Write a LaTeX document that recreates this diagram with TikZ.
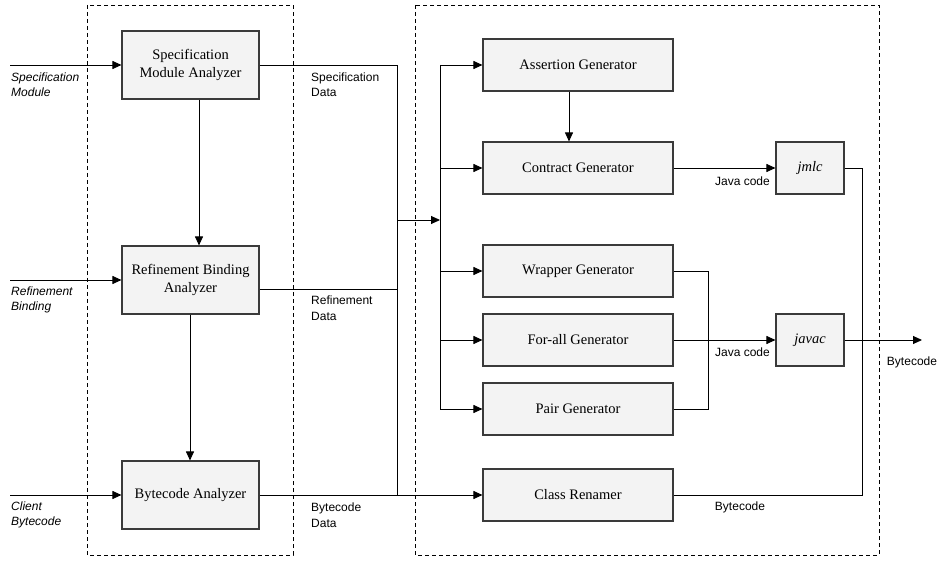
\documentclass[tikz,border=0pt]{standalone}
\usepackage{fontspec}
\setmainfont{Liberation Serif}
\setsansfont{Liberation Sans}
\usetikzlibrary{arrows.meta}
\definecolor{boxfill}{HTML}{F3F3F3}
\definecolor{boxline}{HTML}{3A3A3A}
\tikzset{
  stagebox/.style={draw=boxline, line width=1.1pt, fill=boxfill, inner sep=2pt, align=center,
    font=\fontsize{14.5}{17.5}\selectfont},
  anabox/.style={stagebox, minimum width=137pt, minimum height=68pt},
  genbox/.style={stagebox, minimum width=190pt, minimum height=52pt},
  compbox/.style={stagebox, minimum width=68pt, minimum height=52pt, font=\fontsize{14.5}{17.5}\selectfont\itshape},
  lbl/.style={font=\sffamily\fontsize{12}{15.5}\selectfont, align=left, inner sep=0pt},
  inlbl/.style={lbl, font=\sffamily\itshape\fontsize{12}{15.5}\selectfont},
  conn/.style={draw=black, line width=0.9pt},
  arr/.style={conn, -{Triangle[length=9pt,width=8pt]}},
  group/.style={draw=black, line width=0.9pt, dash pattern=on 4pt off 3pt}
}
\begin{document}
\begin{tikzpicture}[x=1pt,y=-1pt]
\useasboundingbox (0,0) rectangle (937,561);
% dashed groups
\draw[group] (87,5) rectangle (293,555);
\draw[group] (415,5) rectangle (879,555);
% analyzers
\node[anabox] (sma) at (190.5,65) {Specification\\Module Analyzer};
\node[anabox] (rba) at (190.5,280) {Refinement Binding\\Analyzer};
\node[anabox] (ba) at (190.5,495) {Bytecode Analyzer};
% generators
\node[genbox] (ag) at (578,65) {Assertion Generator};
\node[genbox] (cg) at (578,168) {Contract Generator};
\node[genbox] (wg) at (578,271) {Wrapper Generator};
\node[genbox] (fg) at (578,340) {For-all Generator};
\node[genbox] (pg) at (578,409) {Pair Generator};
\node[genbox] (cr) at (578,495) {Class Renamer};
% compilers
\node[compbox] (jmlc) at (810,168) {jmlc};
\node[compbox] (javac) at (810,340) {javac};
% coordinates
\coordinate (in1) at (10,65);
\coordinate (in2) at (10,280);
\coordinate (in3) at (10,495);
\coordinate (x199) at (199,0);
\coordinate (x190) at (190,0);
\coordinate (x569) at (569,0);
\coordinate (y289) at (0,289);
\coordinate (c1) at (397,65);
\coordinate (c2) at (397,289);
\coordinate (c3) at (397,495);
\coordinate (j1) at (397,220);
\coordinate (b0) at (440,220);
\coordinate (btop) at (440,65);
\coordinate (bbot) at (440,409);
\coordinate (w1) at (708,271);
\coordinate (w2) at (708,409);
\coordinate (k1) at (862,168);
\coordinate (k2) at (862,495);
\coordinate (out) at (922,340);
% inputs
\draw[arr] (in1) -- (sma.west);
\draw[arr] (in2) -- (rba.west);
\draw[arr] (in3) -- (ba.west);
\node[inlbl, anchor=west] (l1) at (11,84.5) {Specification\\Module};
\node[inlbl, anchor=west] (l2) at (11,300) {Refinement\\Binding};
\node[inlbl, anchor=west] (l3) at (11,515) {Client\\Bytecode};
% analyzer chain
\draw[arr] (sma.south -| x199) -- (rba.north -| x199);
\draw[arr] (rba.south -| x190) -- (ba.north -| x190);
% outputs to bus
\draw[conn] (sma.east) -- (c1) -- (c3);
\draw[conn] (rba.east |- y289) -- (c2);
\draw[arr] (ba.east) -- (cr.west);
\node[lbl, anchor=west] (d1) at (311,84.5) {Specification\\Data};
\node[lbl, anchor=west] (d2) at (311,308) {Refinement\\Data};
\node[lbl, anchor=west] (d3) at (311,515) {Bytecode\\Data};
\draw[arr] (j1) -- (b0);
\draw[conn] (btop) -- (bbot);
\draw[arr] (btop) -- (ag.west);
\draw[arr] (btop |- cg.west) -- (cg.west);
\draw[arr] (btop |- wg.west) -- (wg.west);
\draw[arr] (btop |- fg.west) -- (fg.west);
\draw[arr] (bbot) -- (pg.west);
% generators
\draw[arr] (ag.south -| x569) -- (cg.north -| x569);
\draw[arr] (cg.east) -- (jmlc.west);
\draw[arr] (fg.east) -- (javac.west);
\draw[conn] (wg.east) -- (w1) -- (w2) -- (pg.east);
\node[lbl, anchor=east] (jc1) at (770,181) {Java code};
\node[lbl, anchor=east] (jc2) at (770,352) {Java code};
% compiler outputs
\draw[conn] (jmlc.east) -- (k1) -- (k2) -- (cr.east);
\node[lbl] (bc1) at (740,507) {Bytecode};
\draw[arr] (javac.east) -- (out);
\node[lbl] (bc2) at (912,362) {Bytecode};
\end{tikzpicture}
\end{document}
